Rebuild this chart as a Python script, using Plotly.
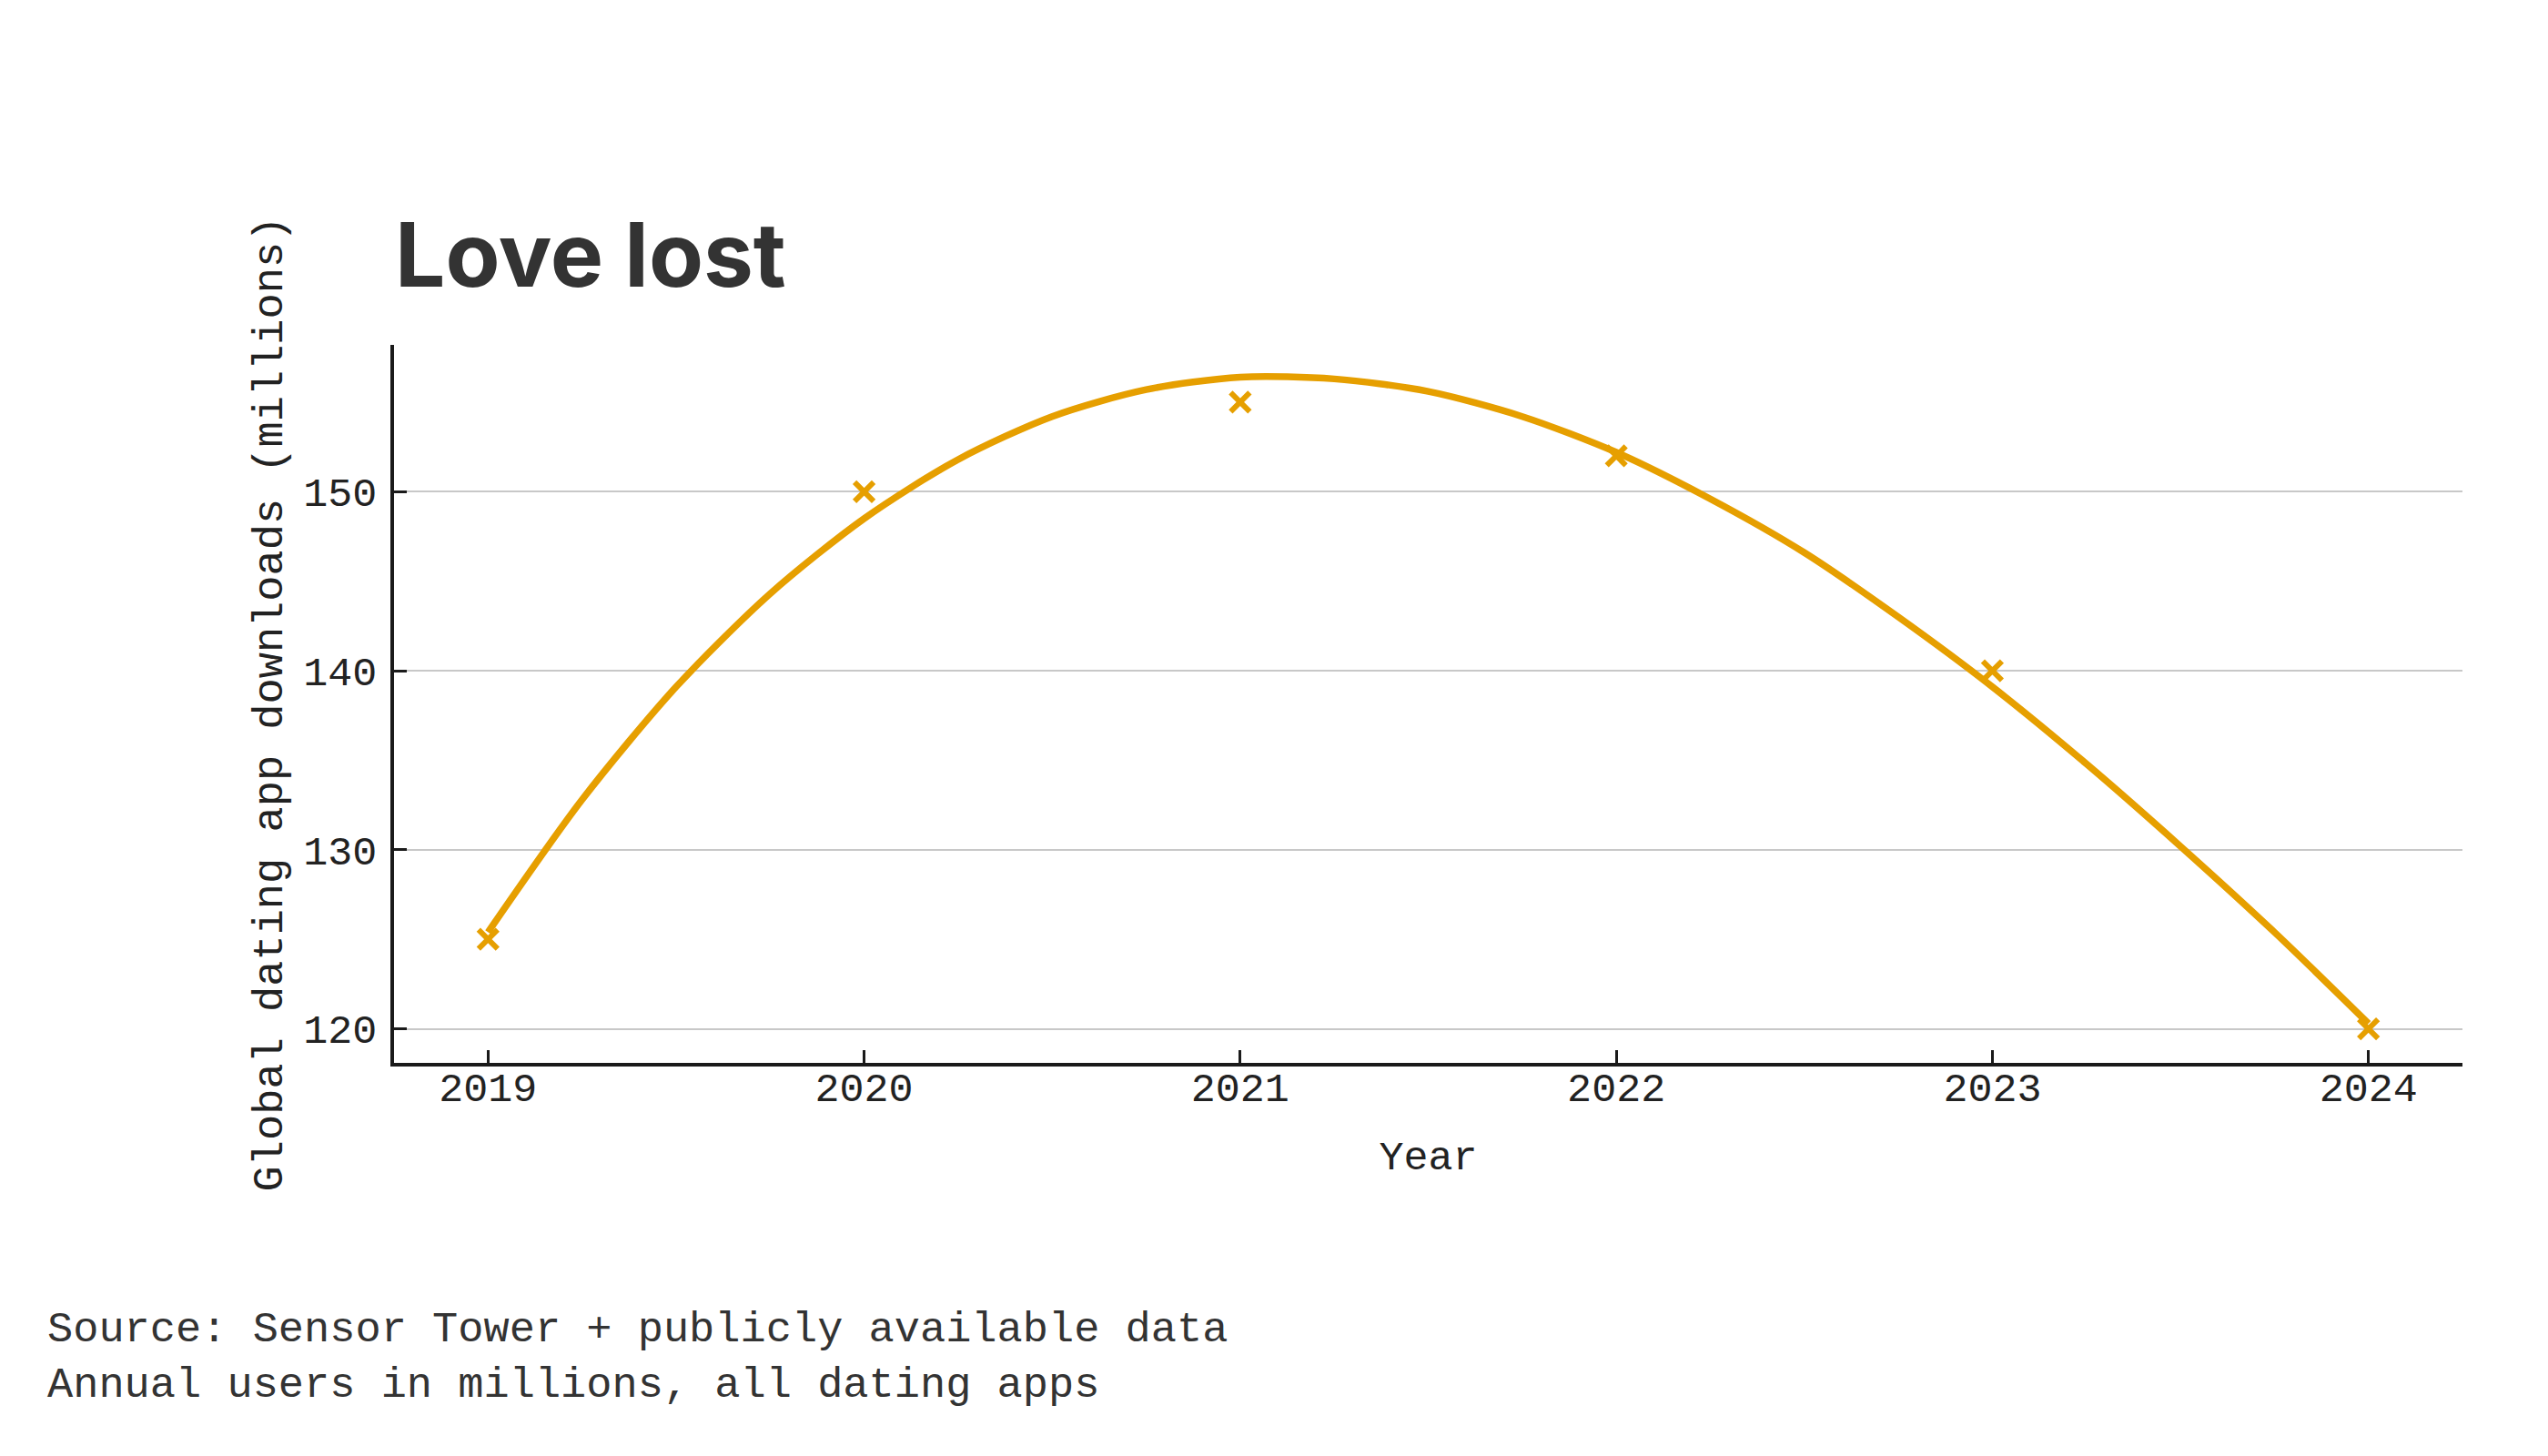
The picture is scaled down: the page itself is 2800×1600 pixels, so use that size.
import plotly.graph_objects as go

# yearly figures (markers)
years = [2019, 2020, 2021, 2022, 2023, 2024]
downloads = [125, 150, 155, 152, 140, 120]

# smooth trend line, every quarter year
trend_x = [2019.0, 2019.25, 2019.5, 2019.75, 2020.0, 2020.25, 2020.5, 2020.75,
           2021.0, 2021.25, 2021.5, 2021.75, 2022.0, 2022.25, 2022.5, 2022.75,
           2023.0, 2023.25, 2023.5, 2023.75, 2024.0]
trend_y = [125.4, 132.8, 139.1, 144.3, 148.5, 151.8, 154.2, 155.7,
           156.4, 156.3, 155.6, 154.2, 152.2, 149.6, 146.6, 143.0,
           139.1, 134.8, 130.2, 125.4, 120.3]

y_ticks = [120, 130, 140, 150]

ORANGE = "#E69F00"
MONO = "Liberation Mono"
INK = "#222222"

fig = go.Figure()

fig.add_trace(go.Scatter(
    x=trend_x, y=trend_y,
    mode="lines",
    line=dict(color=ORANGE, width=7.5, shape="spline", smoothing=0.8),
    hoverinfo="skip",
    showlegend=False,
))

fig.add_trace(go.Scatter(
    x=years, y=downloads,
    mode="markers",
    marker=dict(symbol="x-thin", size=21, color=ORANGE,
                line=dict(color=ORANGE, width=6)),
    showlegend=False,
))

# the page adds an 8px body margin, so everything is pulled back by 8px
fig.update_layout(
    width=2800, height=1600,
    paper_bgcolor="white", plot_bgcolor="white",
    margin=dict(l=425, r=102, t=371, b=440),
    title=dict(
        text="<b>Love lost</b>",
        font=dict(family="Inter", size=98, color="#333333"),
        x=426 / 2800, xanchor="left",
        y=1 - 273 / 1600, yanchor="middle",
    ),
    xaxis=dict(
        range=[2018.75, 2024.25],
        tickvals=years,
        ticktext=[str(y) for y in years],
        showgrid=False, zeroline=False,
        showline=True, linecolor="#1a1a1a", linewidth=3.5,
        ticks="inside", ticklen=14, tickwidth=3, tickcolor="#1a1a1a",
        ticklabelstandoff=-16,
        tickfont=dict(family=MONO, size=45, color=INK),
        title=dict(text="Year", standoff=32,
                   font=dict(family=MONO, size=45, color=INK)),
    ),
    yaxis=dict(
        range=[118.1, 158.2],
        tickvals=y_ticks,
        showgrid=True, gridcolor="#c8c8c8", gridwidth=2,
        zeroline=False,
        showline=True, linecolor="#1a1a1a", linewidth=3.5,
        ticks="inside", ticklen=14, tickwidth=3, tickcolor="#1a1a1a",
        ticklabelstandoff=6,
        tickfont=dict(family=MONO, size=45, color=INK),
        title=dict(text="Global dating app downloads (millions)", standoff=9,
                   font=dict(family=MONO, size=47, color=INK)),
    ),
)

notes = ["Source: Sensor Tower + publicly available data",
         "Annual users in millions, all dating apps"]
for i, note in enumerate(notes):
    fig.add_annotation(
        text=note, xref="paper", yref="paper",
        x=(50 - 433) / 2273, y=(1168 - (1461 + 61 * i)) / 789,
        xanchor="left", yanchor="middle", showarrow=False,
        font=dict(family=MONO, size=47, color="#333333"),
    )

fig.write_html("out.html")
